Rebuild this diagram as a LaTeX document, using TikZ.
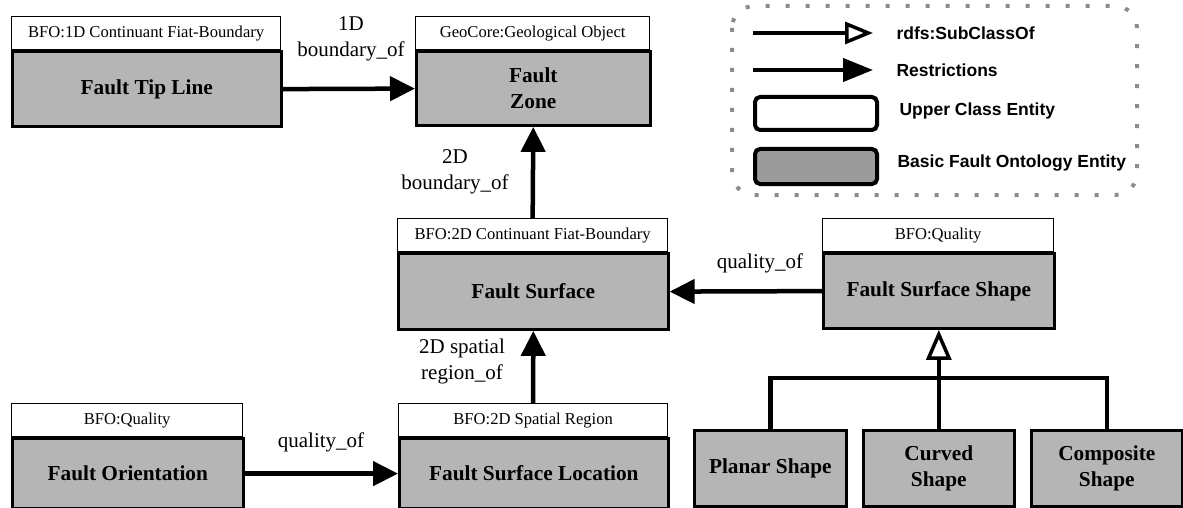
\documentclass[tikz,border=0pt]{standalone}
\usepackage{fontspec}
\setmainfont{Liberation Serif}
\newfontfamily\keyfont{Liberation Sans}
\usepackage{tikz}
\usetikzlibrary{arrows.meta}

\definecolor{boxgray}{RGB}{181,181,181}
\definecolor{keygray}{RGB}{155,155,155}
\definecolor{dotgray}{RGB}{140,140,140}

\tikzset{
  upper/.style={draw, line width=1.3pt, fill=white, inner sep=0pt, anchor=north west,
    font=\fontsize{16.6}{20}\selectfont},
  basic/.style={draw, line width=2.6pt, fill=boxgray, inner sep=0pt, anchor=north west,
    align=center, font=\fontsize{21.3}{26}\selectfont\bfseries},
  restr/.style={line width=4.5pt, -{Triangle[length=25pt,width=24pt]}},
  subcls/.style={line width=4.5pt, -{Triangle[open,length=30pt,width=25pt,line width=3.5pt,fill=white]}},
  rel/.style={align=center, font=\fontsize{21}{26}\selectfont},
  keytext/.style={anchor=west, font=\keyfont\fontsize{17.5}{20}\selectfont\bfseries},
  keybox/.style={draw, line width=4pt, rounded corners=5pt, anchor=north west,
    minimum width=122pt, inner sep=0pt},
}

\begin{document}
\begin{tikzpicture}[x=1pt, y=-1pt]
  \useasboundingbox (0,0) rectangle (1183,508);

  % classes
  \node[upper, minimum width=269pt, minimum height=33pt] (tiphdr) at (11,16) {BFO:1D Continuant Fiat-Boundary};
  \node[basic, minimum width=269pt, minimum height=75pt] (tip) at (tiphdr.south west) {Fault Tip Line};

  \node[upper, minimum width=234pt, minimum height=33pt] (zonehdr) at (415,16) {GeoCore:Geological Object};
  \node[basic, minimum width=234pt, minimum height=74pt] (zone) at (zonehdr.south west) {Fault\\Zone};

  \node[upper, minimum width=270pt, minimum height=33pt] (surfhdr) at (397,218) {BFO:2D Continuant Fiat-Boundary};
  \node[basic, minimum width=270pt, minimum height=76pt] (surf) at (surfhdr.south west) {Fault Surface};

  \node[upper, minimum width=231pt, minimum height=33pt] (shapehdr) at (822,218) {BFO:Quality};
  \node[basic, minimum width=231pt, minimum height=75pt] (shape) at (shapehdr.south west) {Fault Surface Shape};

  \node[upper, minimum width=231pt, minimum height=33pt] (orienthdr) at (11,403) {BFO:Quality};
  \node[basic, minimum width=231pt, minimum height=70pt] (orient) at (orienthdr.south west) {Fault Orientation};

  \node[upper, minimum width=269pt, minimum height=33pt] (lochdr) at (398,403) {BFO:2D Spatial Region};
  \node[basic, minimum width=269pt, minimum height=70pt] (loc) at (lochdr.south west) {Fault Surface Location};

  \node[basic, minimum width=152pt, minimum height=76pt] (planar) at (693,429) {Planar Shape};
  \node[basic, minimum width=151pt, minimum height=76pt] (curved) at (862,429) {Curved\\Shape};
  \node[basic, minimum width=151pt, minimum height=76pt] (composite) at (1030,429) {Composite\\Shape};

  % relations
  \draw[restr] (tip.east) -- (zone.west);
  \draw[restr] (surfhdr.north) -- (zone.south);
  \draw[restr] (lochdr.north) -- (surf.south);
  \draw[restr] (shape.west) -- (surf.east);
  \draw[restr] (orient.east) -- (loc.west);

  \node[rel] (lbltip) at (351,39) {1D\\boundary\_of};
  \node[rel] (lblsurf) at (455,172) {2D\\boundary\_of};
  \node[rel] (lblloc) at (462,361) {2D spatial\\region\_of};
  \node[rel] (lblshape) at (760,263) {quality\_of};
  \node[rel] (lblorient) at (321,442) {quality\_of};

  % subclasses
  \coordinate (bar) at (0,378);
  \draw[line width=4.5pt] (planar.north) -- (planar.north |- bar) -- (composite.north |- bar) -- (composite.north);
  \draw[subcls] (curved.north) -- (shape.south);

  % legend
  \draw[dotgray, line width=4pt, dash pattern=on 4pt off 16pt, rounded corners=22pt] (732,6) rectangle (1137,195);
  \coordinate (sc1) at (753,33);
  \coordinate (sc2) at (873,33);
  \coordinate (rs1) at (753,70);
  \coordinate (rs2) at (873,70);
  \draw[line width=4pt, -{Triangle[open,length=28pt,width=22pt,line width=3.5pt,fill=white]}] (sc1) -- (sc2);
  \draw[line width=4pt, -{Triangle[length=30pt,width=23pt]}] (rs1) -- (rs2);
  \node[keybox, fill=white, minimum height=33pt] (upperkey) at (753,95) {};
  \node[keybox, fill=keygray, minimum height=35pt] (basickey) at (753,147) {};
  \node[keytext] (sctext) at (893,33) {rdfs:SubClassOf};
  \node[keytext] (rstext) at (893,70) {Restrictions};
  \node[keytext] (uptext) at (896,111) {Upper Class Entity};
  \node[keytext] (bstext) at (894,163) {Basic Fault Ontology Entity};
\end{tikzpicture}
\end{document}
